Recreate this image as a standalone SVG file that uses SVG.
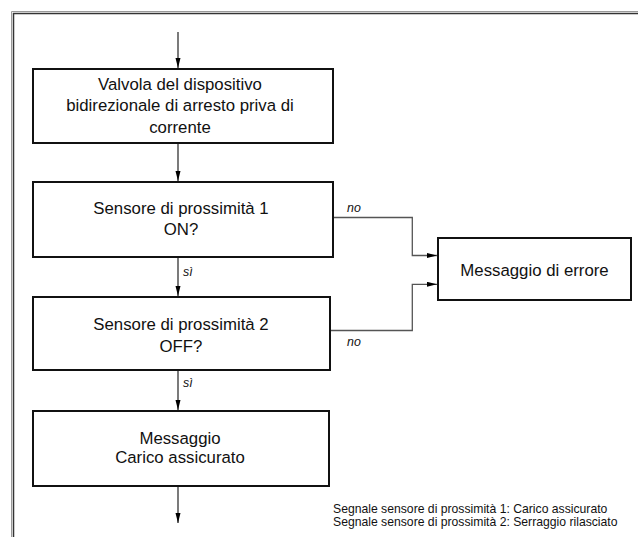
<svg xmlns="http://www.w3.org/2000/svg" width="638" height="537" viewBox="0 0 638 537">
<style>
.box{fill:#fff;stroke:#111;stroke-width:2}
.t{font-family:"Liberation Sans",Arial,sans-serif;font-size:16.8px;fill:#111;text-anchor:middle}
.lbl{font-family:"Liberation Sans",Arial,sans-serif;font-size:12.4px;font-style:italic;fill:#111}
.note{font-family:"Liberation Sans",Arial,sans-serif;font-size:12.2px;fill:#111}
.c{fill:none;stroke:#333;stroke-width:1.3}
.cg{fill:none;stroke:#555;stroke-width:1.3}
</style>
<defs>
<marker id="ah" markerUnits="userSpaceOnUse" markerWidth="11" markerHeight="6" refX="10" refY="2.5" orient="auto">
<path d="M0,0 L10,2.5 L0,5 z" fill="#000"/>
</marker>
</defs>
<rect width="638" height="537" fill="#fff"/>
<g id="frame">
<path d="M11.5,537 V11.5 H638" fill="none" stroke="#999" stroke-width="1"/>
<path d="M13.5,537 V13.5 H638" fill="none" stroke="#333" stroke-width="1.5"/>
</g>
<g id="connectors">
<path class="c" d="M178,32 V68" marker-end="url(#ah)"/>
<path class="c" d="M178,143 V181" marker-end="url(#ah)"/>
<path class="c" d="M178,257 V296" marker-end="url(#ah)"/>
<path class="c" d="M178,370 V410" marker-end="url(#ah)"/>
<path class="c" d="M178,486 V523" marker-end="url(#ah)"/>
<path class="cg" d="M333,217.5 H412.3 V255.5 H437" marker-end="url(#ah)"/>
<path class="cg" d="M330,330.5 H412.3 V284.3 H437" marker-end="url(#ah)"/>
<text class="lbl" x="183" y="276">sì</text>
<text class="lbl" x="183" y="387">sì</text>
<text class="lbl" x="347" y="212">no</text>
<text class="lbl" x="347" y="346">no</text>
</g>
<g id="n1">
<rect class="box" x="33" y="69" width="300" height="74"/>
<text class="t" x="180" y="89.5">Valvola del dispositivo</text>
<text class="t" x="180" y="111">bidirezionale di arresto priva di</text>
<text class="t" x="180" y="132.5">corrente</text>
</g>
<g id="n2">
<rect class="box" x="33" y="182" width="300" height="75"/>
<text class="t" x="181" y="213.5">Sensore di prossimità 1</text>
<text class="t" x="181" y="235">ON?</text>
</g>
<g id="n3">
<rect class="box" x="33" y="297" width="297" height="73"/>
<text class="t" x="181" y="330">Sensore di prossimità 2</text>
<text class="t" x="181" y="351.5">OFF?</text>
</g>
<g id="n4">
<rect class="box" x="33" y="411" width="296" height="75"/>
<text class="t" x="180" y="443.5">Messaggio</text>
<text class="t" x="180" y="463">Carico assicurato</text>
</g>
<g id="n5">
<rect class="box" x="438" y="238" width="193" height="62"/>
<text class="t" x="534.5" y="276">Messaggio di errore</text>
</g>
<g id="note">
<text class="note" x="333" y="512.5">Segnale sensore di prossimità 1: Carico assicurato</text>
<text class="note" x="333" y="525.5">Segnale sensore di prossimità 2: Serraggio rilasciato</text>
</g>
</svg>
